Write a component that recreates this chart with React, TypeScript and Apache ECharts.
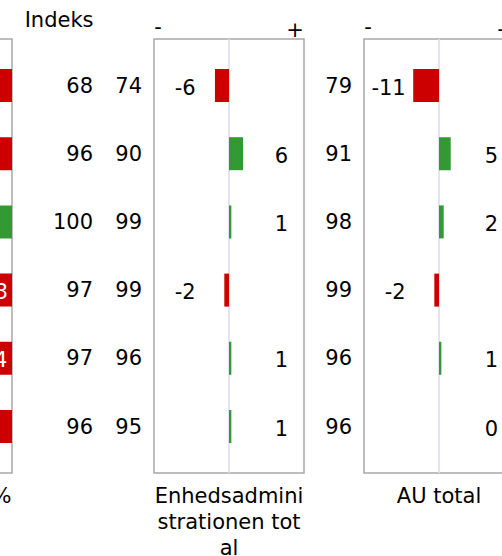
import React, { useEffect, useRef } from "react";
import * as echarts from "echarts";

// ---- data ----
const rows = ["1", "2", "3", "4", "5", "6"];
const unitShare = [45, 33, 60, 23, 24, 33];
const unitGood = [false, false, true, false, false, false];
const unitIndex = [68, 96, 100, 97, 97, 96];
const adminIndex = [74, 90, 99, 99, 96, 95];
const auIndex = [79, 91, 98, 99, 96, 96];
const diffAdmin = [-6, 6, 1, -2, 1, 1];
const diffAU = [-11, 5, 2, -2, 1, 0];
const headerIndex = "Indeks";
const nameUnit = "%";
const nameAdmin = "Enhedsadministrationen total";
const nameAU = "AU total";
const signMinus = "-";
const signPlus = "+";

export default function App() {
  const ref = useRef<HTMLDivElement>(null);
  useEffect(() => {
    if (!ref.current) return;
    const chart = echarts.init(ref.current, null, { renderer: "svg" });
    const FONT = "DejaVu Sans";
    const FS = 21;
    const TXT = "#000000";
    const RED = "#cc0000";
    const GREEN = "#339933";
    const BOX_TOP = 39;
    const BOX_H = 434;
    const BAR_TOP = 51.4;
    const BAR_H = 409.2;
    const W = 150;
    const lefts = [-138, 154, 364];
    const DMAX = 32;
    const NEG_X = -14.2;
    const POS_X = 25.2;

    const grids: any[] = [];
    const xAxes: any[] = [];
    const yAxes: any[] = [];
    const series: any[] = [];
    const graphics: any[] = [];

    const txt = { fontFamily: FONT, fontSize: FS, color: TXT };
    const gText = (text: string, x: number, y: number, align: string, vAlign = "middle", extra: any = {}) => ({
      type: "text", x, y, silent: true,
      style: {
        text, fill: TXT, font: `${FS}px "${FONT}"`,
        align, verticalAlign: vAlign, textAlign: align, textVerticalAlign: vAlign, ...extra,
      },
    });

    lefts.forEach((L, p) => {
      grids.push({
        left: L, top: BOX_TOP, width: W, height: BOX_H, show: true,
        borderColor: "#a8a8a8", borderWidth: 1.5, backgroundColor: "transparent",
        containLabel: false, outerBoundsMode: "none",
      });
      grids.push({
        left: L, top: BAR_TOP, width: W, height: BAR_H,
        containLabel: false, outerBoundsMode: "none",
      });
      const isUnit = p === 0;
      xAxes.push({
        type: "value", gridIndex: 2 * p,
        min: isUnit ? 0 : -DMAX, max: isUnit ? 100 : DMAX, interval: isUnit ? 100 : DMAX,
        inverse: isUnit,
        axisLine: { show: false }, axisTick: { show: false }, axisLabel: { show: false },
        splitLine: {
          show: !isUnit,
          lineStyle: { color: ["rgba(0,0,0,0)", "#dcdcf2", "rgba(0,0,0,0)"], width: 1.6 },
        },
      });
      yAxes.push({ type: "value", gridIndex: 2 * p, min: 0, max: 1, show: false });

      xAxes.push({
        type: "value", gridIndex: 2 * p + 1,
        min: isUnit ? 0 : -DMAX, max: isUnit ? 100 : DMAX, inverse: isUnit, show: false,
      });
      const labels = p === 0 ? unitIndex : p === 1 ? adminIndex : auIndex;
      yAxes.push({
        type: "category", gridIndex: 2 * p + 1, data: rows, inverse: true,
        position: isUnit ? "right" : "left",
        axisLine: { show: false }, axisTick: { show: false }, splitLine: { show: false },
        axisLabel: {
          ...txt,
          margin: isUnit ? 81 : 12,
          align: "right",
          padding: [4, 0, 0, 0],
          formatter: (_v: string, i: number) => String(labels[i]),
        },
      });

      if (isUnit) {
        series.push({
          type: "bar", xAxisIndex: 1, yAxisIndex: 1, barWidth: 33,
          data: unitShare.map((v, i) => ({ value: v, itemStyle: { color: unitGood[i] ? GREEN : RED } })),
          label: { show: true, position: "inside", color: "#ffffff", fontFamily: FONT, fontSize: FS, offset: [0, 2] },
          silent: true,
        });
      } else {
        const diffs = p === 1 ? diffAdmin : diffAU;
        series.push({
          type: "bar", xAxisIndex: 2 * p + 1, yAxisIndex: 2 * p + 1, barWidth: 33,
          data: diffs.map((v) => ({ value: v, itemStyle: { color: v < 0 ? RED : GREEN } })),
          silent: true,
        });
        series.push({
          type: "scatter", xAxisIndex: 2 * p + 1, yAxisIndex: 2 * p + 1, symbolSize: 0,
          data: diffs.map((v, i) => [v < 0 ? NEG_X : POS_X, i]),
          itemStyle: { color: TXT, opacity: 1 },
          label: {
            show: true, position: "left", distance: 0, ...txt, opacity: 1, offset: [0, 2],
            formatter: (prm: any) => String(diffs[prm.dataIndex]),
          },
          silent: true,
        });
        graphics.push(gText(signMinus, L + 4, 27, "center"));
        graphics.push(gText(signPlus, L + 141, 29.5, "center"));
        graphics.push(
          gText(p === 1 ? nameAdmin : nameAU, L + W / 2, 483, "center", "top", {
            width: W, overflow: "breakAll", lineHeight: 26,
          })
        );
      }
    });

    graphics.push(gText(headerIndex, 93.5, 19.5, "right"));
    graphics.push(gText(nameUnit, 11.5, 496, "right"));

    chart.setOption({
      animation: false,
      backgroundColor: "#ffffff",
      grid: grids,
      xAxis: xAxes,
      yAxis: yAxes,
      series,
      graphic: graphics,
    });
    return () => chart.dispose();
  }, []);
  return (
    <div
      ref={ref}
      style={{ position: "fixed", left: 0, top: 0, width: 502, height: 556 }}
    />
  );
}
